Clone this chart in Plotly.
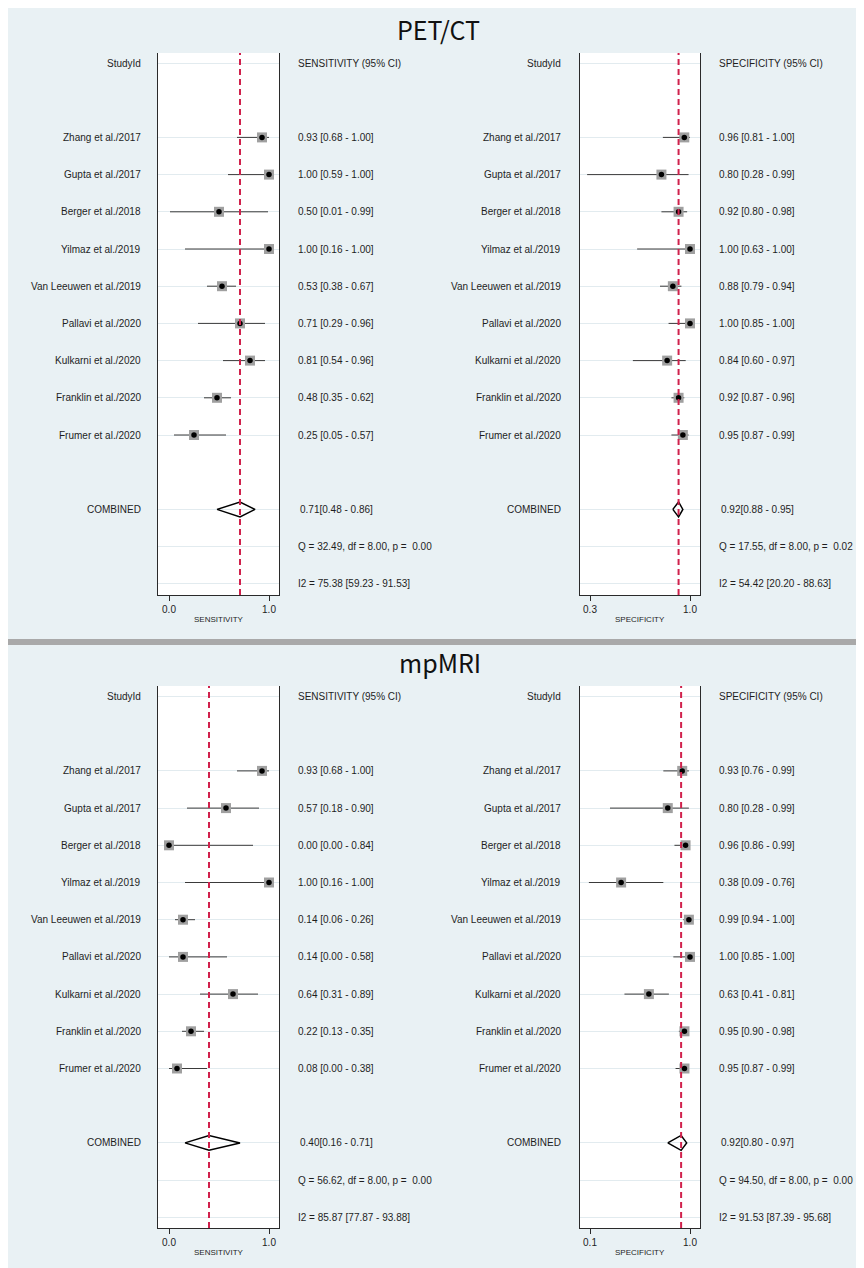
import plotly.graph_objects as go

W, H = 864, 1268

studies = ["Zhang et al./2017", "Gupta et al./2017", "Berger et al./2018", "Yilmaz et al./2019",
           "Van Leeuwen et al./2019", "Pallavi et al./2020", "Kulkarni et al./2020",
           "Franklin et al./2020", "Frumer et al./2020"]

# PET/CT
pet_sens = [0.93, 1.00, 0.50, 1.00, 0.53, 0.71, 0.81, 0.48, 0.25]
pet_sens_lo = [0.68, 0.59, 0.01, 0.16, 0.38, 0.29, 0.54, 0.35, 0.05]
pet_sens_hi = [1.00, 1.00, 0.99, 1.00, 0.67, 0.96, 0.96, 0.62, 0.57]
pet_spec = [0.96, 0.80, 0.92, 1.00, 0.88, 1.00, 0.84, 0.92, 0.95]
pet_spec_lo = [0.81, 0.28, 0.80, 0.63, 0.79, 0.85, 0.60, 0.87, 0.87]
pet_spec_hi = [1.00, 0.99, 0.98, 1.00, 0.94, 1.00, 0.97, 0.96, 0.99]
pet_sens_comb = [0.71, 0.48, 0.86]
pet_spec_comb = [0.92, 0.88, 0.95]
pet_sens_q = [32.49, 8.00, 0.00]
pet_spec_q = [17.55, 8.00, 0.02]
pet_sens_i2 = [75.38, 59.23, 91.53]
pet_spec_i2 = [54.42, 20.20, 88.63]

# mpMRI
mri_sens = [0.93, 0.57, 0.00, 1.00, 0.14, 0.14, 0.64, 0.22, 0.08]
mri_sens_lo = [0.68, 0.18, 0.00, 0.16, 0.06, 0.00, 0.31, 0.13, 0.00]
mri_sens_hi = [1.00, 0.90, 0.84, 1.00, 0.26, 0.58, 0.89, 0.35, 0.38]
mri_spec = [0.93, 0.80, 0.96, 0.38, 0.99, 1.00, 0.63, 0.95, 0.95]
mri_spec_lo = [0.76, 0.28, 0.86, 0.09, 0.94, 0.85, 0.41, 0.90, 0.87]
mri_spec_hi = [0.99, 0.99, 0.99, 0.76, 1.00, 1.00, 0.81, 0.98, 0.99]
mri_sens_comb = [0.40, 0.16, 0.71]
mri_spec_comb = [0.92, 0.80, 0.97]
mri_sens_q = [56.62, 8.00, 0.00]
mri_spec_q = [94.50, 8.00, 0.00]
mri_sens_i2 = [85.87, 77.87, 93.88]
mri_spec_i2 = [91.53, 87.39, 95.68]

sens_ticks = [0.0, 1.0]
pet_spec_ticks = [0.3, 1.0]
mri_spec_ticks = [0.1, 1.0]

BG = "#e9f1f4"
GRID = "#e2ebef"
RED = "#d0214c"
TXT = "#1e1e1e"
FONT = "Liberation Sans, Arial, sans-serif"

OFF = 8  # page body margin


def px(x):
    return (x - OFF) / W


def py(y):
    return 1 - (y - OFF) / H


fig = go.Figure()
annotations = []
shapes = []
layout_axes = {}

ROW_S = 37.2
study_rows = list(range(2, 11))
COMB_ROW, Q_ROW, I2_ROW = 12, 13, 14

panels = [
    dict(i=1, bx=(158, 279), by=(53, 595), r0=63, xr=(-0.11, 1.10), ticks=sens_ticks,
         est=pet_sens, lo=pet_sens_lo, hi=pet_sens_hi, comb=pet_sens_comb, q=pet_sens_q, i2=pet_sens_i2,
         lx=143, tx=296, head="SENSITIVITY (95% CI)", atitle="SENSITIVITY"),
    dict(i=2, bx=(580, 700), by=(53, 595), r0=63, xr=(0.23, 1.07), ticks=pet_spec_ticks,
         est=pet_spec, lo=pet_spec_lo, hi=pet_spec_hi, comb=pet_spec_comb, q=pet_spec_q, i2=pet_spec_i2,
         lx=563, tx=717, head="SPECIFICITY (95% CI)", atitle="SPECIFICITY"),
    dict(i=3, bx=(158, 279), by=(686, 1228), r0=696.5, xr=(-0.11, 1.10), ticks=sens_ticks,
         est=mri_sens, lo=mri_sens_lo, hi=mri_sens_hi, comb=mri_sens_comb, q=mri_sens_q, i2=mri_sens_i2,
         lx=143, tx=296, head="SENSITIVITY (95% CI)", atitle="SENSITIVITY"),
    dict(i=4, bx=(580, 700), by=(686, 1228), r0=696.5, xr=(0.01, 1.09), ticks=mri_spec_ticks,
         est=mri_spec, lo=mri_spec_lo, hi=mri_spec_hi, comb=mri_spec_comb, q=mri_spec_q, i2=mri_spec_i2,
         lx=563, tx=717, head="SPECIFICITY (95% CI)", atitle="SPECIFICITY"),
]

for p in panels:
    i = p["i"]
    xa = "x" if i == 1 else f"x{i}"
    ya = "y" if i == 1 else f"y{i}"
    xkey = "xaxis" if i == 1 else f"xaxis{i}"
    ykey = "yaxis" if i == 1 else f"yaxis{i}"
    top, bot = p["by"]
    r0 = p["r0"]
    yrange = [(bot - r0) / ROW_S, (top - r0) / ROW_S]

    layout_axes[xkey] = dict(
        domain=[px(p["bx"][0]), px(p["bx"][1])], range=list(p["xr"]), anchor=ya,
        showline=True, linecolor="#2a2a2a", linewidth=1, mirror=False,
        ticks="outside", ticklen=5, tickcolor="#2a2a2a", tickwidth=1,
        tickvals=p["ticks"], ticktext=[f"{t:.1f}" for t in p["ticks"]],
        tickfont=dict(family=FONT, size=10, color=TXT),
        showgrid=False, zeroline=False, fixedrange=True,
    )
    layout_axes[ykey] = dict(
        domain=[py(bot), py(top)], range=yrange, anchor=xa,
        showline=True, linecolor="#2a2a2a", linewidth=1, mirror=True,
        tickvals=[0] + study_rows + [COMB_ROW, Q_ROW, I2_ROW], showticklabels=False, ticks="",
        showgrid=True, gridcolor=GRID, gridwidth=1, zeroline=False, fixedrange=True,
    )

    # CI lines
    cx, cy = [], []
    for r, lo, hi in zip(study_rows, p["lo"], p["hi"]):
        cx += [lo, hi, None]
        cy += [r, r, None]
    fig.add_trace(go.Scatter(x=cx, y=cy, mode="lines", line=dict(color="#3a3a3a", width=1),
                             xaxis=xa, yaxis=ya, showlegend=False, hoverinfo="skip"))
    # squares
    fig.add_trace(go.Scatter(x=p["est"], y=study_rows, mode="markers",
                             marker=dict(symbol="square", size=10, color="#a0a0a0", line=dict(width=0)),
                             xaxis=xa, yaxis=ya, showlegend=False, hoverinfo="skip"))
    # dots
    fig.add_trace(go.Scatter(x=p["est"], y=study_rows, mode="markers",
                             marker=dict(symbol="circle", size=5.5, color="black", line=dict(width=0)),
                             xaxis=xa, yaxis=ya, showlegend=False, text=studies))
    # diamond
    e, lo, hi = p["comb"]
    h = 0.2
    fig.add_trace(go.Scatter(x=[lo, e, hi, e, lo], y=[COMB_ROW, COMB_ROW - h, COMB_ROW, COMB_ROW + h, COMB_ROW],
                             mode="lines", line=dict(color="black", width=1.5),
                             xaxis=xa, yaxis=ya, showlegend=False, hoverinfo="skip"))
    # reference dashed line
    shapes.append(dict(type="line", xref=xa, yref=f"{ya} domain", x0=e, x1=e, y0=0, y1=1,
                       line=dict(color=RED, width=2, dash="6px,4px"), layer="above"))

    def lab(text, row):
        annotations.append(dict(x=px(p["lx"]), y=row, xref="paper", yref=ya, text=text, showarrow=False,
                                xanchor="right", yanchor="middle", font=dict(family=FONT, size=10, color=TXT)))

    def rtext(text, row, shift=0):
        annotations.append(dict(x=px(p["tx"]), y=row, xref="paper", yref=ya, text=text, showarrow=False,
                                xanchor="left", yanchor="middle", xshift=shift,
                                font=dict(family=FONT, size=10, color=TXT)))

    lab("StudyId", 0)
    rtext(p["head"], 0)
    for r, s, es, l, hh in zip(study_rows, studies, p["est"], p["lo"], p["hi"]):
        lab(s, r)
        rtext(f"{es:.2f} [{l:.2f} - {hh:.2f}]", r)
    lab("COMBINED", COMB_ROW)
    rtext(f"{e:.2f}[{lo:.2f} - {hi:.2f}]", COMB_ROW, shift=2)
    qv, df, pv = p["q"]
    rtext(f"Q = {qv:.2f}, df = {df:.2f}, p =  {pv:.2f}", Q_ROW)
    iv, il, ih = p["i2"]
    rtext(f"I2 = {iv:.2f} [{il:.2f} - {ih:.2f}]", I2_ROW)

    annotations.append(dict(x=px((p["bx"][0] + p["bx"][1]) / 2), y=py(bot + 24.5), xref="paper", yref="paper",
                            text=p["atitle"], showarrow=False, xanchor="center", yanchor="middle",
                            font=dict(family=FONT, size=8, color=TXT)))

TITLE_FONT = "Noto Sans CJK SC, Noto Sans, sans-serif"
annotations.append(dict(x=px(438), y=py(29), xref="paper", yref="paper", text="PET/CT", showarrow=False,
                        xanchor="center", yanchor="middle", font=dict(family=TITLE_FONT, size=25, color="#111")))
annotations.append(dict(x=px(440), y=py(662), xref="paper", yref="paper", text="mpMRI", showarrow=False,
                        xanchor="center", yanchor="middle", font=dict(family=TITLE_FONT, size=25, color="#111")))

# grey separator bar
shapes.append(dict(type="rect", xref="paper", yref="paper", x0=0, x1=1, y0=py(645), y1=py(639),
                   fillcolor="#a9a9a9", line=dict(width=0), layer="below"))

fig.update_layout(
    width=W, height=H, margin=dict(l=0, r=0, t=0, b=0),
    paper_bgcolor=BG, plot_bgcolor="white",
    showlegend=False, annotations=annotations, shapes=shapes,
    **layout_axes,
)

fig.write_html("out.html")
